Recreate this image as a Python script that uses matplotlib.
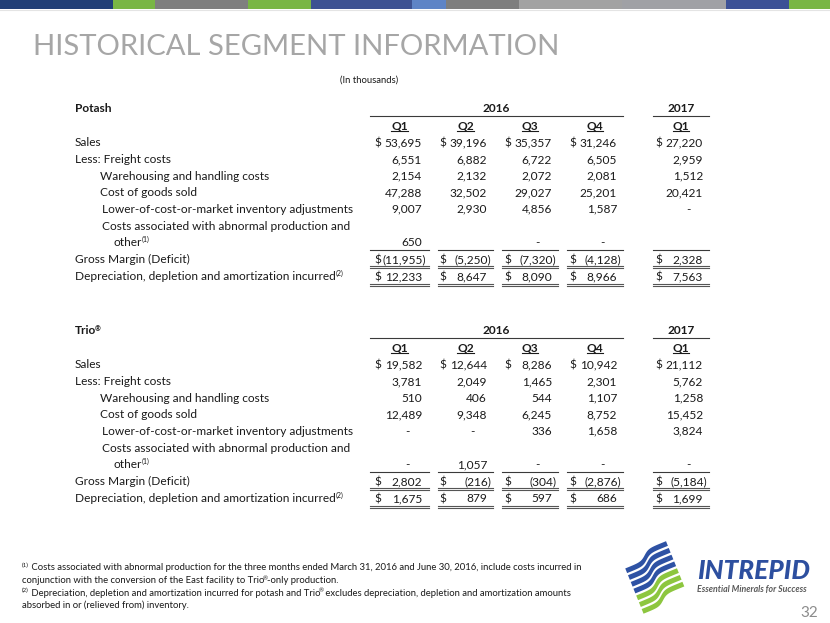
import matplotlib
matplotlib.use("Agg")
import matplotlib.pyplot as plt
from matplotlib.patches import Polygon, Rectangle
import numpy as np

plt.rcParams['font.family'] = ['Lato', 'DejaVu Sans']

# ---- data (in thousands) ----
years = ["2016", "2017"]
quarters = ["Q1", "Q2", "Q3", "Q4", "Q1"]
row_labels = ["Sales", "Less: Freight costs", "Warehousing and handling costs",
              "Cost of goods sold", "Lower-of-cost-or-market inventory adjustments",
              "Costs associated with abnormal production and", "other",
              "Gross Margin (Deficit)", "Depreciation, depletion and amortization incurred"]

# None = blank cell, 0 = dash
potash_sales = [53695, 39196, 35357, 31246, 27220]
potash_freight = [6551, 6882, 6722, 6505, 2959]
potash_warehouse = [2154, 2132, 2072, 2081, 1512]
potash_cogs = [47288, 32502, 29027, 25201, 20421]
potash_lcm = [9007, 2930, 4856, 1587, 0]
potash_abnormal = [650, None, 0, 0, None]
potash_margin = [-11955, -5250, -7320, -4128, 2328]
potash_dda = [12233, 8647, 8090, 8966, 7563]

trio_sales = [19582, 12644, 8286, 10942, 21112]
trio_freight = [3781, 2049, 1465, 2301, 5762]
trio_warehouse = [510, 406, 544, 1107, 1258]
trio_cogs = [12489, 9348, 6245, 8752, 15452]
trio_lcm = [0, 0, 336, 1658, 3824]
trio_abnormal = [0, 1057, 0, 0, 0]
trio_margin = [2802, -216, -304, -2876, -5184]
trio_dda = [1675, 879, 597, 686, 1699]

bar_colors = ["#213f77", "#79b645", "#7f7f7f", "#79b645", "#3d5292", "#5e84c6",
              "#7e7e7e", "#a2a2a2", "#a0a1a5", "#3c5196", "#79b645"]
bar_edges = [0, 113, 155, 248, 311, 412, 446, 519, 622, 726, 789, 830]

# ---- figure in pixel coordinates ----
W, H = 830, 623
fig = plt.figure(figsize=(8.3, 6.23), dpi=100)
ax = fig.add_axes([0, 0, 1, 1])
ax.set_xlim(0, W)
ax.set_ylim(H, 0)
ax.axis('off')
r = fig.canvas.get_renderer()

TXT = "#1a1a1a"


def width_of(s, fs, weight='normal', style='normal'):
    t = ax.text(0, 0, s, fontsize=fs, fontweight=weight, style=style)
    w = t.get_window_extent(r).width
    t.remove()
    return w


def fit(s, target, weight='normal', style='normal'):
    return 10 * target / width_of(s, 10, weight, style)


def rich(x, y, parts, color=TXT, weight='normal'):
    # parts: (text, fontsize, rise)
    for s, fs, rise in parts:
        if s == "®":
            x -= 1.5
        t = ax.text(x, y - rise, s, fontsize=fs, color=color, fontweight=weight,
                    va='baseline', ha='left')
        x += t.get_window_extent(r).width
        if s == "®":
            x -= 1
    return x


# top colour bar
for i, c in enumerate(bar_colors):
    ax.add_patch(Rectangle((bar_edges[i], 0), bar_edges[i + 1] - bar_edges[i], 9,
                           color=c, lw=0))
ax.plot([0, W], [9.5, 9.5], color="#e4e4e4", lw=0.8)

# title
tfs = fit("HISTORICAL SEGMENT INFORMATION", 522)
ax.text(33, 55, "HISTORICAL SEGMENT INFORMATION", fontsize=tfs, color="#a6a6a6",
        va='baseline', ha='left')

fs = fit(row_labels[-1], 262)
sup = fs * 0.6

ax.text(369, 83, "(In thousands)", fontsize=fs * 0.8, color=TXT,
        va='baseline', ha='center')

col_right = [422, 487, 552, 617, 703]
col_left = [370, 438, 502, 567, 653]
col_line_r = [429, 493, 558, 623, 709]
dollar_x = [374, 439, 504, 569, 655]
label_x = [75, 75, 100, 100, 102, 102, 113, 75, 75]
LINE = "#3a3a3a"


def table(top, name, rows):
    dy = 16.6
    base = lambda yc: yc + 4.5
    # name and year headers
    if name == "Trio":
        rich(75, base(top), [("Trio", fs, 0), ("®", sup, 3)], weight='bold')
    else:
        ax.text(75, base(top), name, fontsize=fs, fontweight='bold', color=TXT, va='baseline')
    ax.text((col_left[0] + col_line_r[3]) / 2, base(top), years[0], fontsize=fs,
            fontweight='bold', color=TXT, va='baseline', ha='center')
    ax.text((col_left[4] + col_line_r[4]) / 2, base(top), years[1], fontsize=fs,
            fontweight='bold', color=TXT, va='baseline', ha='center')
    ax.plot([col_left[0], col_line_r[3]], [top + 8, top + 8], color=LINE, lw=0.8)
    ax.plot([col_left[4], col_line_r[4]], [top + 8, top + 8], color=LINE, lw=0.8)
    # quarter headers underlined
    qy = top + 17
    for j, q in enumerate(quarters):
        cx = (col_left[j] + col_line_r[j]) / 2
        ax.text(cx, base(qy), q, fontsize=fs, fontweight='bold', color=TXT,
                va='baseline', ha='center')
        w = width_of(q, fs, 'bold')
        ax.plot([cx - w / 2, cx + w / 2], [base(qy) + 1.5] * 2, color=TXT, lw=0.8)
    # rows
    ys = [top + 34 + dy * k for k in range(9)]
    ys[7] = ys[6] + 17
    ys[8] = ys[7] + 17
    for k, lab in enumerate(row_labels):
        y = base(ys[k])
        if lab == "other":
            rich(label_x[k], y, [("other", fs, 0), ("(1)", sup, 4)])
        elif k == 8:
            rich(label_x[k], y, [(lab, fs, 0), ("(2)", sup, 4)])
        else:
            ax.text(label_x[k], y, lab, fontsize=fs, color=TXT, va='baseline')
    value_rows = {0: rows[0], 1: rows[1], 2: rows[2], 3: rows[3], 4: rows[4],
                  6: rows[5], 7: rows[6], 8: rows[7]}
    for k, vals in value_rows.items():
        y = base(ys[k])
        for j, v in enumerate(vals):
            if v is None:
                continue
            if k in (0, 7, 8):
                ax.text(dollar_x[j], y, "$", fontsize=fs, color=TXT, va='baseline')
            if v == 0:
                ax.text(col_right[j] - 15, y, "-", fontsize=fs, color=TXT,
                        va='baseline', ha='center')
            elif v < 0:
                ax.text(col_right[j] + 4, y, "({:,})".format(-v), fontsize=fs, color=TXT,
                        va='baseline', ha='right')
            else:
                ax.text(col_right[j], y, "{:,}".format(v), fontsize=fs, color=TXT,
                        va='baseline', ha='right')
    # rule lines
    for j in range(5):
        xs = [col_left[j], col_line_r[j]]
        ax.plot(xs, [ys[6] + 8.5] * 2, color=LINE, lw=0.8)
        for yl in (ys[7] + 7.5, ys[7] + 9.5, ys[8] + 8.5, ys[8] + 10.5):
            ax.plot(xs, [yl, yl], color="#555555", lw=0.8)


table(108, "Potash", [potash_sales, potash_freight, potash_warehouse, potash_cogs,
                      potash_lcm, potash_abnormal, potash_margin, potash_dda])
table(330, "Trio", [trio_sales, trio_freight, trio_warehouse, trio_cogs,
                    trio_lcm, trio_abnormal, trio_margin, trio_dda])

# footnotes
line1 = ("Costs associated with abnormal production for the three months ended March 31, "
         "2016 and June 30, 2016, include costs incurred in")
ffs = fit(line1, 555)
fsup = ffs * 0.65
fy = [570.5, 583, 595.5, 608]
rich(22, fy[0], [("(1)", fsup, 3), (" " + line1, ffs, 0)])
rich(22, fy[1], [("conjunction with the conversion of the East facility to Trio", ffs, 0),
                 ("®", fsup, 3), ("-only production.", ffs, 0)])
rich(22, fy[2], [("(2)", fsup, 3), (" Depreciation, depletion and amortization incurred for potash and Trio", ffs, 0),
                 ("®", fsup, 3),
                 (" excludes depreciation, depletion and amortization amounts", ffs, 0)])
rich(22, fy[3], [("absorbed in or (relieved from) inventory.", ffs, 0)])

# logo stripes
cx, cy = 655, 578
th = np.deg2rad(22)
u = np.linspace(-24, 24, 80)
for i in range(7):
    v0 = -25 + i * 7.3
    wave = 5 * np.tanh((u + 1) / 6)
    top_v = v0 - wave
    bot_v = top_v + 5.0
    pts = []
    for uu, vv in zip(u, top_v):
        pts.append((cx + uu * np.cos(th) + vv * np.sin(th), cy - uu * np.sin(th) + vv * np.cos(th)))
    for uu, vv in zip(u[::-1], bot_v[::-1]):
        pts.append((cx + uu * np.cos(th) + vv * np.sin(th), cy - uu * np.sin(th) + vv * np.cos(th)))
    ax.add_patch(Polygon(pts, closed=True, color="#2e52a4" if i < 4 else "#8dc63f", lw=0))

ax.text(697, 579, "INTREPID", fontsize=fit("INTREPID", 113, 'black', 'italic'),
        fontweight='black', style='italic', color="#2d4f9f", va='baseline')
ax.text(697, 592, "Essential Minerals for Success",
        fontsize=fit("Essential Minerals for Success", 110, 'bold', 'italic'),
        fontweight='bold', style='italic', color="#5a5a5a", va='baseline')
ax.text(818, 617, "32", fontsize=11, color="#8c8c8c", va='baseline', ha='right')

fig.savefig("out.png", dpi=100)
